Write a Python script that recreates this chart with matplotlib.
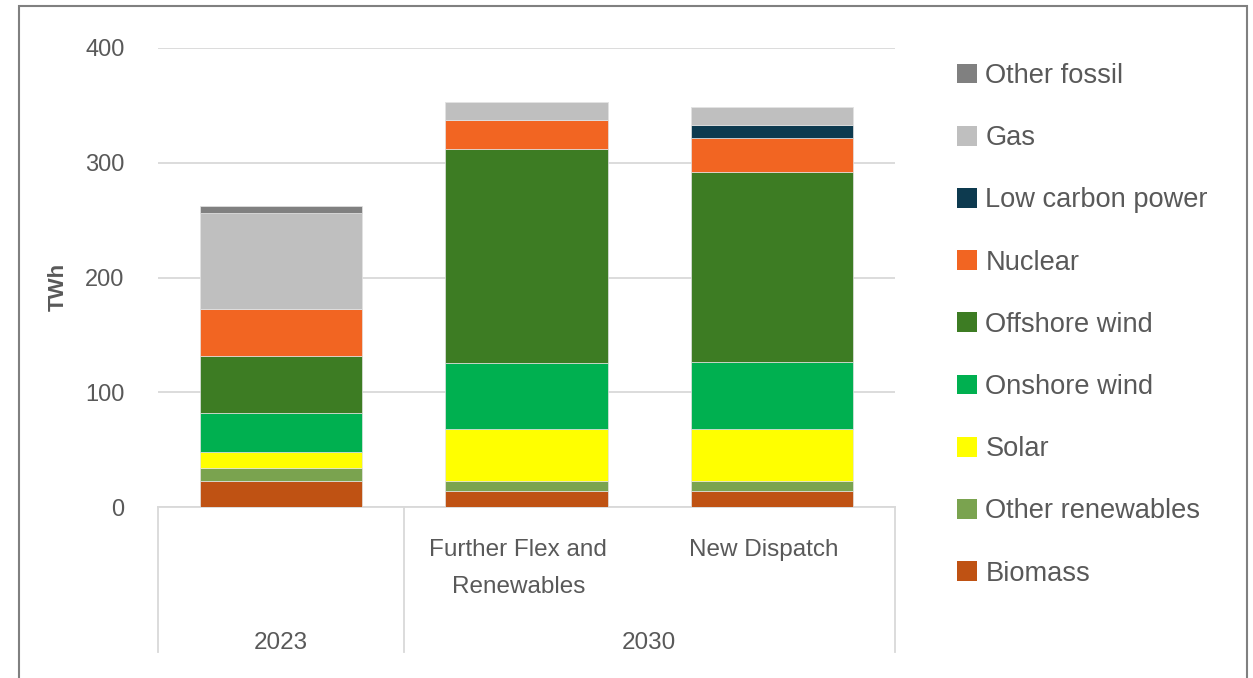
import numpy as np
import matplotlib.pyplot as plt
from matplotlib.patches import Rectangle, Patch
import matplotlib.transforms as mtransforms

plt.rcParams['font.family'] = ['Liberation Sans', 'DejaVu Sans']

# categories and values (TWh)
scenarios = ['', 'Further Flex and\nRenewables', 'New Dispatch']
years = ['2023', '2030']

biomass = [22.4, 14.2, 14.2]
other_renewables = [11.6, 8.5, 8.5]
solar = [14.2, 45.0, 45.0]
onshore_wind = [34.0, 57.5, 58.7]
offshore_wind = [49.4, 186.8, 165.8]
nuclear = [40.9, 25.3, 29.7]
low_carbon = [0.0, 0.0, 11.0]
gas = [84.0, 15.9, 15.7]
other_fossil = [5.8, 0.0, 0.0]

series = [
    ('Biomass', biomass, '#BF5213'),
    ('Other renewables', other_renewables, '#7AA34F'),
    ('Solar', solar, '#FFFF00'),
    ('Onshore wind', onshore_wind, '#00B050'),
    ('Offshore wind', offshore_wind, '#3D7C23'),
    ('Nuclear', nuclear, '#F26522'),
    ('Low carbon power', low_carbon, '#0D3A4F'),
    ('Gas', gas, '#BFBFBF'),
    ('Other fossil', other_fossil, '#808080'),
]

W, H = 1253, 678
fig = plt.figure(figsize=(W / 100, H / 100), dpi=100)
ax = fig.add_axes([158 / W, 1 - 507 / H, (895 - 158) / W, (507 - 48) / H])

text_col = '#595959'
grid_col = '#D9D9D9'

x = np.arange(len(scenarios))
bottom = np.zeros(len(scenarios))
for name, vals, col in series:
    vals = np.array(vals)
    ax.bar(x, vals, 0.66, bottom=bottom, color=col, edgecolor='#E3E3E3',
           linewidth=0.5, label=name, zorder=3)
    bottom += vals

ax.set_xlim(-0.5, 2.5)
ax.set_ylim(0, 400)
ax.set_yticks([0, 100, 200, 300, 400])
ax.tick_params(axis='y', length=0, pad=24, labelsize=17, labelcolor=text_col)
ax.set_xticks([])
ax.grid(axis='y', color=grid_col, linewidth=1.3, zorder=0)
for s in ['top', 'right', 'left']:
    ax.spines[s].set_visible(False)
ax.spines['bottom'].set_color(grid_col)
ax.spines['bottom'].set_linewidth(1.3)

# multi-level category axis
trans = mtransforms.blended_transform_factory(ax.transData, ax.transAxes)
for xd in [-0.5, 0.5, 2.5]:
    ax.plot([xd, xd], [0, -0.316], color=grid_col, linewidth=1.3,
            transform=trans, clip_on=False)
for i, lab in enumerate(scenarios):
    if lab:
        ax.text(i - 0.033, -0.069, lab, transform=trans, ha='center', va='top',
                fontsize=17.5, color=text_col, linespacing=1.9)
ax.text(0, -0.297, years[0], transform=trans, ha='center', va='center',
        fontsize=17.5, color=text_col)
ax.text(1.5, -0.297, years[1], transform=trans, ha='center', va='center',
        fontsize=17.5, color=text_col)

fig.text(58 / W, 1 - 287 / H, 'TWh', rotation=90, ha='center', va='center',
         fontsize=16, fontweight='bold', color=text_col)

# legend, top entry first
handles = [Patch(facecolor=c, edgecolor='none', label=n) for n, v, c in series[::-1]]
fig.legend(handles=handles, loc='upper left',
           bbox_to_anchor=(957 / W, 1 - 63 / H), bbox_transform=fig.transFigure,
           frameon=False, fontsize=19.6, labelcolor=text_col,
           handlelength=0.74, handleheight=0.74, handletextpad=0.3,
           labelspacing=1.33, borderpad=0, borderaxespad=0)

# outer frame
fig.patches.append(Rectangle((19 / W, -0.05), (1247 - 19) / W, 1.05 - 6 / H,
                             transform=fig.transFigure, fill=False,
                             edgecolor='#808080', linewidth=1.5))

fig.savefig('out.png', dpi=100)
